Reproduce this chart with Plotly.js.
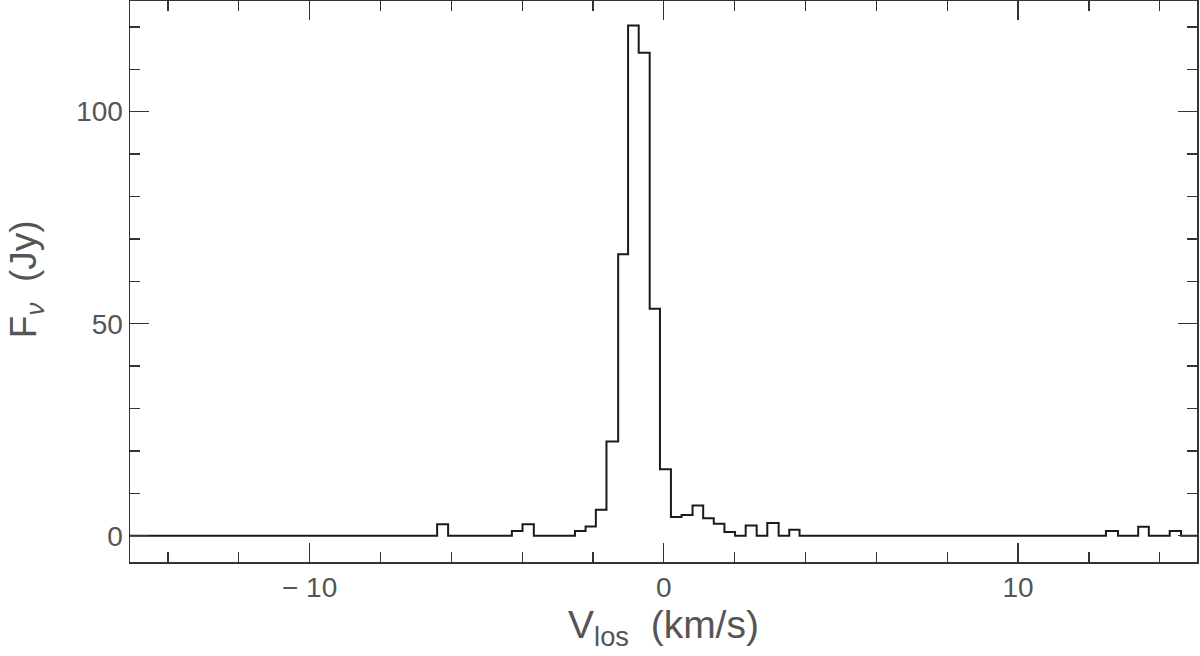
<!DOCTYPE html>
<html>
<head>
<meta charset="utf-8">
<script src="https://cdn.plot.ly/plotly-3.0.1.min.js"></script>
<style>html,body{margin:0;padding:0;background:#fff;}#chart{width:1200px;height:656px;}</style>
</head>
<body>
<div id="chart"></div>
<script>
// Left edges of each channel (km/s) and flux in that channel (Jy)
const velEdges = [-15.07, -6.40, -6.09, -4.29, -3.99, -3.67, -2.51, -2.21, -1.92, -1.62, -1.29, -1.01, -0.71, -0.40, -0.11, 0.20, 0.50, 0.81, 1.11, 1.41, 1.71, 2.01, 2.31, 2.62, 2.92, 3.24, 3.54, 3.83, 12.48, 12.82, 13.39, 13.69, 14.28, 14.60, 15.05];
const fluxValues = [0, 2.7, 0, 1.1, 2.7, 0, 1.1, 2.2, 6.1, 22.2, 66.4, 120.3, 113.9, 53.5, 15.7, 4.4, 4.9, 7.1, 4.1, 2.8, 0.9, 0, 2.4, 0, 3.0, 0, 1.4, 0, 1.1, 0, 2.1, 0, 1.1, 0, 0];
const xTickVals = [-10, 0, 10];
const xTickText = ['\u2212 10', '0', '10'];
const yTickVals = [0, 50, 100];
const yTickText = ['0', '50', '100'];
const xTitle = 'V<sub>los</sub>  (km/s)';
const yTitle = 'F<sub><i>\u03bd</i></sub>  (Jy)';

const trace = {
  x: velEdges,
  y: fluxValues,
  type: 'scatter',
  mode: 'lines',
  line: {shape: 'hv', color: '#1a1a1a', width: 2},
  hoverinfo: 'x+y'
};

const fam = '"Liberation Sans", Arial, sans-serif';
const txtColor = '#555';
const layout = {
  width: 1200, height: 656,
  margin: {l: 130, r: 3, t: 1, b: 94},
  paper_bgcolor: '#ffffff', plot_bgcolor: '#ffffff',
  showlegend: false,
  font: {family: fam, size: 28, color: txtColor},
  xaxis: {
    range: [-15.07, 15.05],
    tickmode: 'array', tickvals: xTickVals, ticktext: xTickText,
    ticks: 'inside', ticklen: 19, tickwidth: 1.3, tickcolor: '#333',
    minor: {dtick: 2, ticks: 'inside', ticklen: 10, tickwidth: 1.3, tickcolor: '#333', showgrid: false},
    showline: true, linecolor: '#333', linewidth: 1.5, mirror: 'ticks',
    showgrid: false, zeroline: false,
    tickfont: {family: fam, size: 28, color: txtColor},
    title: {text: xTitle, font: {family: fam, size: 39, color: txtColor}, standoff: 4}
  },
  yaxis: {
    range: [-6.2, 126.1],
    tickmode: 'array', tickvals: yTickVals, ticktext: yTickText,
    ticksuffix: ' \u200a',
    ticks: 'inside', ticklen: 19, tickwidth: 1.3, tickcolor: '#333',
    minor: {dtick: 10, tick0: 0, ticks: 'inside', ticklen: 10, tickwidth: 1.3, tickcolor: '#333', showgrid: false},
    showline: true, linecolor: '#333', linewidth: 1.5, mirror: 'ticks',
    showgrid: false, zeroline: false,
    tickfont: {family: fam, size: 28, color: txtColor}
  },
  annotations: [{
    text: yTitle, textangle: -90, showarrow: false,
    xref: 'paper', yref: 'paper', x: -0.098, y: 0.505,
    xanchor: 'center', yanchor: 'middle',
    font: {family: fam, size: 37, color: txtColor}
  }]
};

Plotly.newPlot('chart', [trace], layout, {staticPlot: true});
</script>
</body>
</html>
